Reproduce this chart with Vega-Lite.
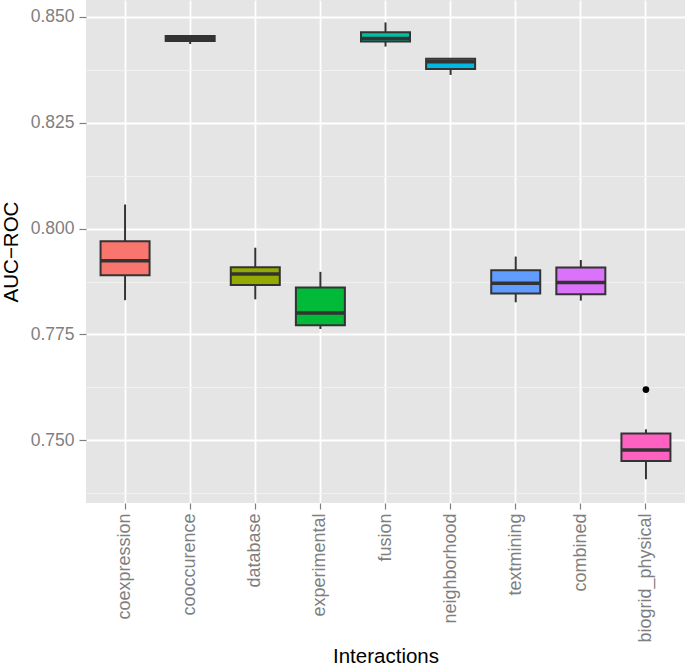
{
  "$schema": "https://vega.github.io/schema/vega-lite/v6.json",
  "width": 599,
  "height": 503,
  "autosize": {"type": "none"},
  "padding": {"left": 86, "top": 0, "right": 0, "bottom": 164},
  "background": "white",
  "config": {
    "view": {"fill": "#E5E5E5", "stroke": null},
    "font": "Liberation Sans",
    "axis": {
      "domain": false,
      "labelFont": "Liberation Sans",
      "titleFont": "Liberation Sans",
      "labelFontSize": 17.5,
      "labelColor": "#7F7F7F",
      "tickColor": "#7F7F7F",
      "tickSize": 7,
      "tickWidth": 1.2,
      "labelPadding": 5,
      "titleFontSize": 20.5,
      "titleFontWeight": "normal",
      "titleColor": "#000000",
      "gridColor": "#FFFFFF",
      "gridWidth": 1.8
    }
  },
  "datasets": {
    "boxes": [
      {"Interactions": "coexpression", "lower": 0.7831, "q1": 0.7890, "median": 0.7924, "q3": 0.7970, "upper": 0.8057},
      {"Interactions": "cooccurence", "lower": 0.8436, "q1": 0.8443, "median": 0.8449, "q3": 0.8455, "upper": 0.8456},
      {"Interactions": "database", "lower": 0.7833, "q1": 0.7867, "median": 0.7893, "q3": 0.7909, "upper": 0.7955},
      {"Interactions": "experimental", "lower": 0.7763, "q1": 0.7772, "median": 0.7801, "q3": 0.7861, "upper": 0.7898},
      {"Interactions": "fusion", "lower": 0.8430, "q1": 0.8442, "median": 0.8449, "q3": 0.8464, "upper": 0.8487},
      {"Interactions": "neighborhood", "lower": 0.8363, "q1": 0.8377, "median": 0.8394, "q3": 0.8401, "upper": 0.8402},
      {"Interactions": "textmining", "lower": 0.7826, "q1": 0.7847, "median": 0.7871, "q3": 0.7902, "upper": 0.7934},
      {"Interactions": "combined", "lower": 0.7830, "q1": 0.7845, "median": 0.7873, "q3": 0.7908, "upper": 0.7926},
      {"Interactions": "biogrid_physical", "lower": 0.7408, "q1": 0.7451, "median": 0.7477, "q3": 0.7516, "upper": 0.7526}
    ],
    "outliers": [
      {"Interactions": "biogrid_physical", "value": 0.7620}
    ]
  },
  "data": {"name": "boxes"},
  "layer": [
    {
      "mark": {"type": "rule", "color": "#333333", "strokeWidth": 2},
      "encoding": {
        "x": {
          "field": "Interactions", "type": "nominal",
          "sort": ["coexpression", "cooccurence", "database", "experimental", "fusion", "neighborhood", "textmining", "combined", "biogrid_physical"],
          "scale": {"paddingInner": 0, "paddingOuter": 0.1},
          "axis": {"title": "Interactions", "labelAngle": 270, "labelFontSize": 18, "labelPadding": 4, "tickSize": 6, "bandPosition": 0.5, "grid": true, "titlePadding": 4}
        },
        "y": {
          "field": "lower", "type": "quantitative",
          "scale": {"domain": [0.7352, 0.854], "nice": false, "zero": false},
          "axis": {
            "title": "AUC\u2212ROC",
            "titlePadding": 9,
            "values": [0.7375, 0.75, 0.7625, 0.775, 0.7875, 0.8, 0.8125, 0.825, 0.8375, 0.85],
            "labelExpr": "abs(datum.value*40 - round(datum.value*40)) < 0.01 ? format(datum.value, '.3f') : ''",
            "gridColor": {"condition": {"test": "abs(datum.value*40 - round(datum.value*40)) < 0.01", "value": "#FFFFFF"}, "value": "#F2F2F2"},
            "gridWidth": {"condition": {"test": "abs(datum.value*40 - round(datum.value*40)) < 0.01", "value": 1.8}, "value": 0.9},
            "tickOpacity": {"condition": {"test": "abs(datum.value*40 - round(datum.value*40)) < 0.01", "value": 1}, "value": 0}
          }
        },
        "y2": {"field": "upper"}
      }
    },
    {
      "mark": {"type": "bar", "size": 49, "stroke": "#333333", "strokeWidth": 2},
      "encoding": {
        "x": {"field": "Interactions", "type": "nominal", "sort": ["coexpression", "cooccurence", "database", "experimental", "fusion", "neighborhood", "textmining", "combined", "biogrid_physical"]},
        "y": {"field": "q1", "type": "quantitative"},
        "y2": {"field": "q3"},
        "color": {
          "field": "Interactions", "type": "nominal",
          "scale": {
            "domain": ["coexpression", "cooccurence", "database", "experimental", "fusion", "neighborhood", "textmining", "combined", "biogrid_physical"],
            "range": ["#F8766D", "#D39200", "#93AA00", "#00BA38", "#00C19F", "#00B9E3", "#619CFF", "#DB72FB", "#FF61C3"]
          },
          "legend": null
        }
      }
    },
    {
      "mark": {"type": "tick", "size": 49, "thickness": 3.5, "color": "#333333", "opacity": 1},
      "encoding": {
        "x": {"field": "Interactions", "type": "nominal", "sort": ["coexpression", "cooccurence", "database", "experimental", "fusion", "neighborhood", "textmining", "combined", "biogrid_physical"]},
        "y": {"field": "median", "type": "quantitative"}
      }
    },
    {
      "data": {"name": "outliers"},
      "mark": {"type": "point", "filled": true, "color": "#000000", "size": 45, "opacity": 1},
      "encoding": {
        "x": {"field": "Interactions", "type": "nominal", "sort": ["coexpression", "cooccurence", "database", "experimental", "fusion", "neighborhood", "textmining", "combined", "biogrid_physical"]},
        "y": {"field": "value", "type": "quantitative"}
      }
    }
  ]
}
